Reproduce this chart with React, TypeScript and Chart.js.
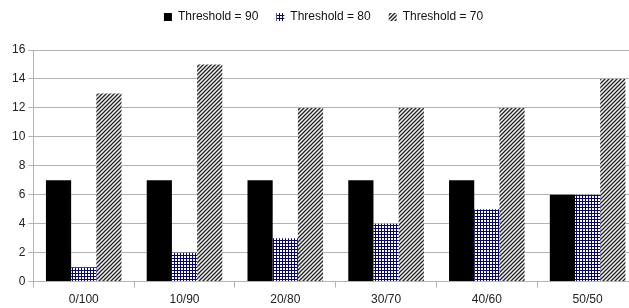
import React, { useEffect, useRef } from "react";
import { Chart, registerables } from "chart.js";

Chart.register(...registerables);

const categories = ["0/100", "10/90", "20/80", "30/70", "40/60", "50/50"];
const seriesNames = ["Threshold = 90", "Threshold = 80", "Threshold = 70"];
const threshold90 = [7, 7, 7, 7, 7, 6];
const threshold80 = [1, 2, 3, 4, 5, 6];
const threshold70 = [13, 15, 12, 12, 12, 14];
const yMin = 0;
const yMax = 16;
const yStep = 2;

function gridPattern(ctx: CanvasRenderingContext2D): CanvasPattern | string {
  const c = document.createElement("canvas");
  c.width = 3;
  c.height = 3;
  const g = c.getContext("2d");
  if (!g) return "#000080";
  g.fillStyle = "#ffffff";
  g.fillRect(0, 0, 3, 3);
  g.fillStyle = "#00008c";
  g.fillRect(0, 0, 3, 1);
  g.fillRect(0, 0, 1, 3);
  return ctx.createPattern(c, "repeat") || "#000080";
}

function hatchPattern(ctx: CanvasRenderingContext2D): CanvasPattern | string {
  const s = 4;
  const c = document.createElement("canvas");
  c.width = s;
  c.height = s;
  const g = c.getContext("2d");
  if (!g) return "#555";
  g.fillStyle = "#f4f4f4";
  g.fillRect(0, 0, s, s);
  g.strokeStyle = "#222222";
  g.lineWidth = 1.3;
  g.beginPath();
  g.moveTo(-1, s + 1);
  g.lineTo(s + 1, -1);
  g.moveTo(-1, 1);
  g.lineTo(1, -1);
  g.moveTo(s - 1, s + 1);
  g.lineTo(s + 1, s - 1);
  g.stroke();
  return ctx.createPattern(c, "repeat") || "#555";
}

const legendGap = {
  id: "legendGap",
  beforeInit(chart: any) {
    const legend = chart.legend;
    if (!legend) return;
    const orig = legend.fit;
    legend.fit = function () {
      orig.call(this);
      this.height += 17;
    };
  },
};

export default function App() {
  const ref = useRef<HTMLCanvasElement | null>(null);

  useEffect(() => {
    const canvas = ref.current;
    if (!canvas) return;
    const ctx = canvas.getContext("2d");
    if (!ctx) return;
    const blue = gridPattern(ctx);
    const hatch = hatchPattern(ctx);
    const font = { family: "'Liberation Sans', Arial, sans-serif", size: 12 };

    const chart = new Chart(canvas, {
      type: "bar",
      data: {
        labels: categories,
        datasets: [
          { label: seriesNames[0], data: threshold90, backgroundColor: "#000000", borderWidth: 0 },
          { label: seriesNames[1], data: threshold80, backgroundColor: blue as any, borderWidth: 0 },
          { label: seriesNames[2], data: threshold70, backgroundColor: hatch as any, borderWidth: 0 },
        ],
      },
      plugins: [legendGap],
      options: {
        animation: false,
        responsive: false,
        events: [],
        layout: { padding: { left: 9, right: 2, top: -7, bottom: -4 } },
        datasets: { bar: { categoryPercentage: 0.75, barPercentage: 1 } },
        plugins: {
          tooltip: { enabled: false },
          legend: {
            position: "top",
            labels: {
              boxWidth: 8,
              boxHeight: 8,
              padding: 18,
              color: "#111",
              font,
            },
          },
        },
        scales: {
          x: {
            offset: true,
            grid: {
              offset: true,
              drawOnChartArea: false,
              drawTicks: true,
              tickLength: 6,
              color: "#b3b3b3",
            },
            border: { display: true, color: "#b3b3b3" },
            ticks: { color: "#222", font, padding: 5, maxRotation: 0 },
          },
          y: {
            min: yMin,
            max: yMax,
            ticks: { stepSize: yStep, color: "#222", font, padding: 3 },
            grid: { color: "#b3b3b3", tickLength: 5 },
            border: { display: true, color: "#b3b3b3" },
          },
        },
      },
    });
    return () => chart.destroy();
  }, []);

  return (
    <div style={{ position: "fixed", left: 0, top: 0, width: 640, height: 308, background: "#fff" }}>
      <canvas ref={ref} width={640} height={308} />
    </div>
  );
}
